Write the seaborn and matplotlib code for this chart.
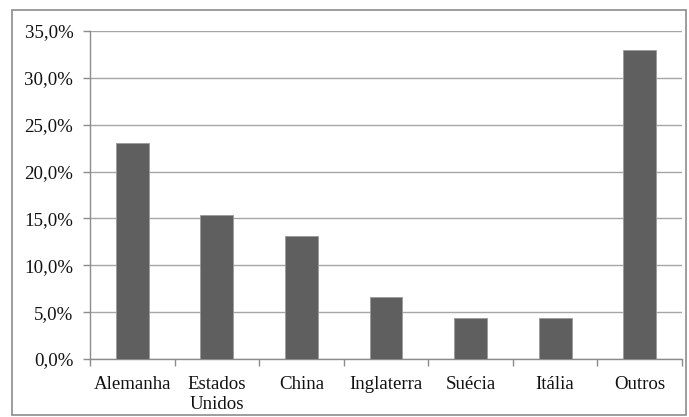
import matplotlib
matplotlib.use("Agg")
import matplotlib.pyplot as plt
import matplotlib.ticker as mticker
from matplotlib.patches import Rectangle
import seaborn as sns
import pandas as pd

paises = ["Alemanha", "Estados\nUnidos", "China", "Inglaterra", "Suécia", "Itália", "Outros"]
participacao = [23.0, 15.4, 13.1, 6.6, 4.4, 4.4, 33.0]

df = pd.DataFrame({"pais": paises, "valor": participacao})

sns.set_theme(style="white")
plt.rcParams["font.family"] = ["Liberation Serif", "DejaVu Serif"]

W, H = 689, 417
fig = plt.figure(figsize=(W / 100, H / 100), dpi=100)
ax = fig.add_axes([90 / W, 1 - 359 / H, (682 - 90) / W, (359 - 31) / H])

sns.barplot(data=df, x="pais", y="valor", color="#5f5f5f", saturation=1,
            width=0.39, edgecolor="#9a9a9a", linewidth=0.6, ax=ax, zorder=3)

ax.set_ylim(0, 35)
ax.set_xlim(-0.5, len(paises) - 0.5)
ax.yaxis.set_major_locator(mticker.MultipleLocator(5))
ax.yaxis.set_major_formatter(
    mticker.FuncFormatter(lambda v, p: f"{v:.1f}%".replace(".", ",")))
ax.grid(axis="y", color="#a6a6a6", linewidth=1.0, zorder=0)
ax.set_axisbelow(True)

# category boundary ticks on the x axis
ax.set_xticks([i - 0.5 for i in range(len(paises) + 1)], minor=True)
ax.tick_params(axis="x", which="major", length=0, pad=12, labelsize=13.6,
               labelcolor="#111111")
ax.tick_params(axis="x", which="minor", length=5, width=1.0, color="#8c8c8c",
               direction="out", bottom=True)
ax.tick_params(axis="y", length=5, width=1.0, color="#8c8c8c", direction="out",
               left=True, labelsize=13.6, labelcolor="#111111", pad=7)
for lbl in ax.get_xticklabels():
    lbl.set_linespacing(1.25)

ax.set_xlabel("")
ax.set_ylabel("")
for side in ["top", "right"]:
    ax.spines[side].set_visible(False)
for side in ["left", "bottom"]:
    ax.spines[side].set_color("#8c8c8c")
    ax.spines[side].set_linewidth(1.0)

# outer chart frame
fig.patches.append(Rectangle((12 / W, 2 / H), (686 - 12) / W, (407 - 2) / H,
                             transform=fig.transFigure, fill=False,
                             edgecolor="#8c8c8c", linewidth=1.2))

fig.savefig("out.png", dpi=100)
